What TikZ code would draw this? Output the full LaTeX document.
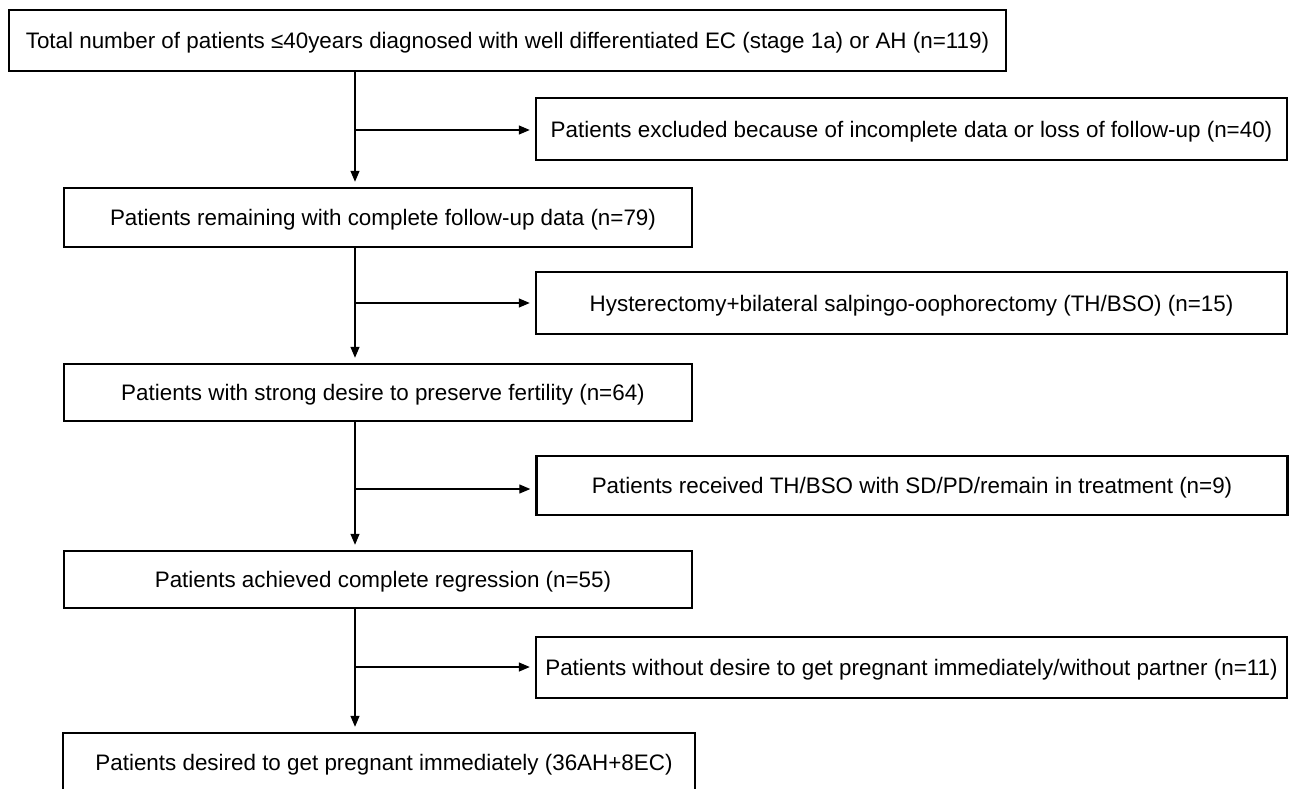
\documentclass[tikz,border=0pt]{standalone}
\usepackage{fontspec}
\setmainfont{Liberation Sans}
\usetikzlibrary{arrows.meta}
\begin{document}
\begin{tikzpicture}[x=1pt,y=-1pt,
  box/.style={draw=black, line width=2.4pt, inner sep=0pt, align=center,
    text height=16pt, text depth=0pt,
    font=\fontsize{22.4}{26}\selectfont},
  conn/.style={draw=black, line width=1.3pt},
  arr/.style={conn, -{Triangle[length=11pt,width=9pt]}, shorten >=5pt}]
\useasboundingbox (0,0) rectangle (1292,789);
% main boxes
\node[box, minimum width=997pt, minimum height=61pt] (b1) at (507.5,40.5)
  {Total number of patients ≤40years diagnosed with well differentiated EC (stage 1a) or AH (n=119)};
\node[box, minimum width=751pt, minimum height=62pt] (b2) at (911.5,129)
  {Patients excluded because of incomplete data or loss of follow-up (n=40)};
\node[box, minimum width=628pt, minimum height=59pt] (b3) at (378,217.5)
  {\hspace*{10pt}Patients remaining with complete follow-up data (n=79)};
\node[box, minimum width=751pt, minimum height=62pt] (b5) at (911.5,303)
  {Hysterectomy+bilateral salpingo-oophorectomy (TH/BSO) (n=15)};
\node[box, minimum width=628pt, minimum height=57pt] (b4) at (378,392.5)
  {\hspace*{10pt}Patients with strong desire to preserve fertility (n=64)};
\node[box, minimum width=751pt, minimum height=59pt] (b7) at (912,485.5)
  {Patients received TH/BSO with SD/PD/remain in treatment (n=9)};
\node[box, minimum width=628pt, minimum height=57pt] (b6) at (378,579.5)
  {\hspace*{10pt}Patients achieved complete regression (n=55)};
\node[box, minimum width=751pt, minimum height=61pt] (b9) at (911.5,667.5)
  {Patients without desire to get pregnant immediately/without partner (n=11)};
\node[box, minimum width=632pt, minimum height=58pt] (b8) at (379,762)
  {\hspace*{10pt}Patients desired to get pregnant immediately (36AH+8EC)};
% main column
\coordinate (col) at (355,0);
\coordinate (j1) at (355,130);
\coordinate (j2) at (355,303);
\coordinate (j3) at (355,489);
\coordinate (j4) at (355,667);
\draw[arr] (b1.south -| col) -- (b3.north -| col);
\draw[arr] (b3.south -| col) -- (b4.north -| col);
\draw[arr] (b4.south -| col) -- (b6.north -| col);
\draw[arr] (b6.south -| col) -- (b8.north -| col);
\draw[arr] (j1) -- (b2.west |- j1);
\draw[arr] (j2) -- (b5.west |- j2);
\draw[arr] (j3) -- (b7.west |- j3);
\draw[arr] (j4) -- (b9.west |- j4);
\end{tikzpicture}
\end{document}
